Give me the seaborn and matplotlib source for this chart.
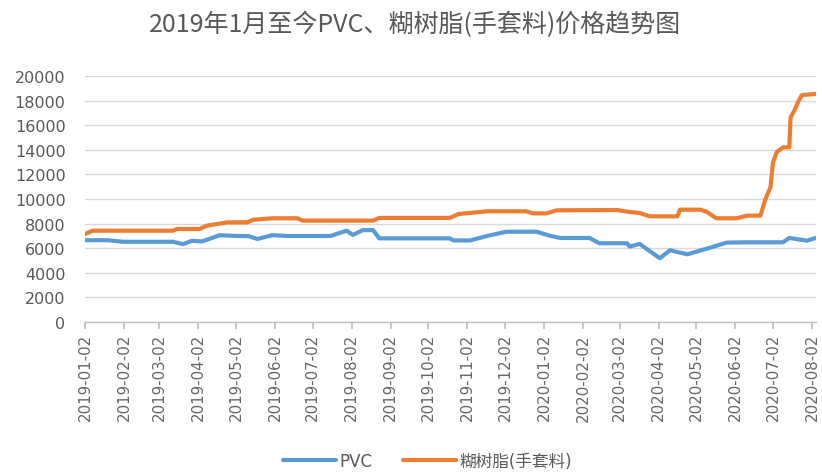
import pandas as pd
import seaborn as sns
import matplotlib.pyplot as plt

# PVC 价格
pvc_dates = ["2019-01-02", "2019-01-20", "2019-02-01", "2019-03-13", "2019-03-21", "2019-03-28",
             "2019-04-05", "2019-04-19", "2019-05-01", "2019-05-12", "2019-05-19", "2019-05-31",
             "2019-06-12", "2019-07-16", "2019-07-29", "2019-08-03", "2019-08-11", "2019-08-19",
             "2019-08-24", "2019-10-19", "2019-10-22", "2019-11-04", "2019-11-18", "2019-12-03",
             "2019-12-27", "2020-01-07", "2020-01-15", "2020-02-07", "2020-02-15", "2020-03-08",
             "2020-03-10", "2020-03-18", "2020-04-03", "2020-04-11", "2020-04-25", "2020-05-13",
             "2020-05-26", "2020-06-11", "2020-07-10", "2020-07-15", "2020-07-29", "2020-08-05"]
pvc_vals = [6650, 6650, 6520, 6520, 6330, 6600,
            6550, 7050, 7000, 6980, 6750, 7060,
            6990, 6990, 7420, 7080, 7470, 7470,
            6800, 6800, 6630, 6630, 7000, 7340,
            7340, 7000, 6830, 6830, 6400, 6400,
            6130, 6350, 5180, 5830, 5500, 6040,
            6450, 6480, 6480, 6830, 6610, 6830]

# 糊树脂(手套料) 价格
paste_dates = ["2019-01-02", "2019-01-08", "2019-03-13", "2019-03-16", "2019-04-03", "2019-04-09",
               "2019-04-25", "2019-05-11", "2019-05-16", "2019-05-31", "2019-06-20", "2019-06-24",
               "2019-08-19", "2019-08-24", "2019-10-19", "2019-10-26", "2019-11-18", "2019-12-19",
               "2019-12-24", "2020-01-04", "2020-01-12", "2020-02-29", "2020-03-08", "2020-03-18",
               "2020-03-26", "2020-04-17", "2020-04-19", "2020-05-05", "2020-05-10", "2020-05-18",
               "2020-06-03", "2020-06-11", "2020-06-22", "2020-06-26", "2020-06-30", "2020-07-02",
               "2020-07-05", "2020-07-10", "2020-07-15", "2020-07-16", "2020-07-19", "2020-07-22",
               "2020-07-25", "2020-08-05"]
paste_vals = [7150, 7420, 7420, 7560, 7560, 7830,
              8100, 8100, 8320, 8430, 8430, 8240,
              8240, 8460, 8460, 8780, 9000, 9000,
              8830, 8830, 9080, 9100, 8970, 8860,
              8590, 8590, 9130, 9130, 8970, 8430,
              8430, 8640, 8650, 10000, 10950, 12980,
              13820, 14200, 14200, 16640, 17200, 17900,
              18450, 18540]

tick_dates = ["2019-01-02", "2019-02-02", "2019-03-02", "2019-04-02", "2019-05-02", "2019-06-02",
              "2019-07-02", "2019-08-02", "2019-09-02", "2019-10-02", "2019-11-02", "2019-12-02",
              "2020-01-02", "2020-02-02", "2020-03-02", "2020-04-02", "2020-05-02", "2020-06-02",
              "2020-07-02", "2020-08-02"]

series_names = ["PVC", "糊树脂(手套料)"]
colors = ["#5B9BD5", "#ED7D31"]

df = pd.concat([
    pd.DataFrame({"date": pd.to_datetime(pvc_dates), "price": pvc_vals, "name": series_names[0]}),
    pd.DataFrame({"date": pd.to_datetime(paste_dates), "price": paste_vals, "name": series_names[1]}),
])

sns.set_theme(style="white")
plt.rcParams['font.family'] = ['DejaVu Sans', 'Noto Sans CJK SC']

fig = plt.figure(figsize=(8.22, 4.77), dpi=100)
ax = fig.add_axes([0.1034, 0.3229, 0.889, 0.5157])

sns.lineplot(data=df, x="date", y="price", hue="name", palette=colors,
             linewidth=3.0, ax=ax, legend=False)

ax.set_ylim(0, 20000)
ax.set_yticks(range(0, 20001, 2000))
ax.set_xlim(pd.Timestamp("2019-01-02"), pd.Timestamp("2020-08-05"))
ax.set_xticks(pd.to_datetime(tick_dates))
ax.set_xticklabels(tick_dates, rotation=90)
ax.set_xlabel("")
ax.set_ylabel("")

ax.grid(axis="y", color="#D9D9D9", linewidth=1)
ax.set_axisbelow(True)
for s in ["left", "right", "top"]:
    ax.spines[s].set_visible(False)
ax.spines["bottom"].set_color("#BFBFBF")
ax.spines["bottom"].set_linewidth(1)

ax.tick_params(axis="y", length=0, pad=14, labelsize=11.5, labelcolor="#595959")
ax.tick_params(axis="x", bottom=True, length=5, color="#BFBFBF", pad=3,
               labelsize=10.8, labelcolor="#666666")

fig.suptitle("2019年1月至今PVC、糊树脂(手套料)价格趋势图", x=0.505, y=0.975,
             fontsize=18, color="#595959", family=['Noto Sans CJK SC', 'DejaVu Sans'])

handles = [plt.Line2D([], [], color=c, linewidth=3.0) for c in colors]
fig.legend(handles, series_names, loc="lower center", bbox_to_anchor=(0.52, -0.018),
           ncol=2, frameon=False, fontsize=12, handlelength=3.2, columnspacing=1.8,
           handletextpad=0.2, labelcolor="#595959")

fig.savefig("out.png", dpi=100)
